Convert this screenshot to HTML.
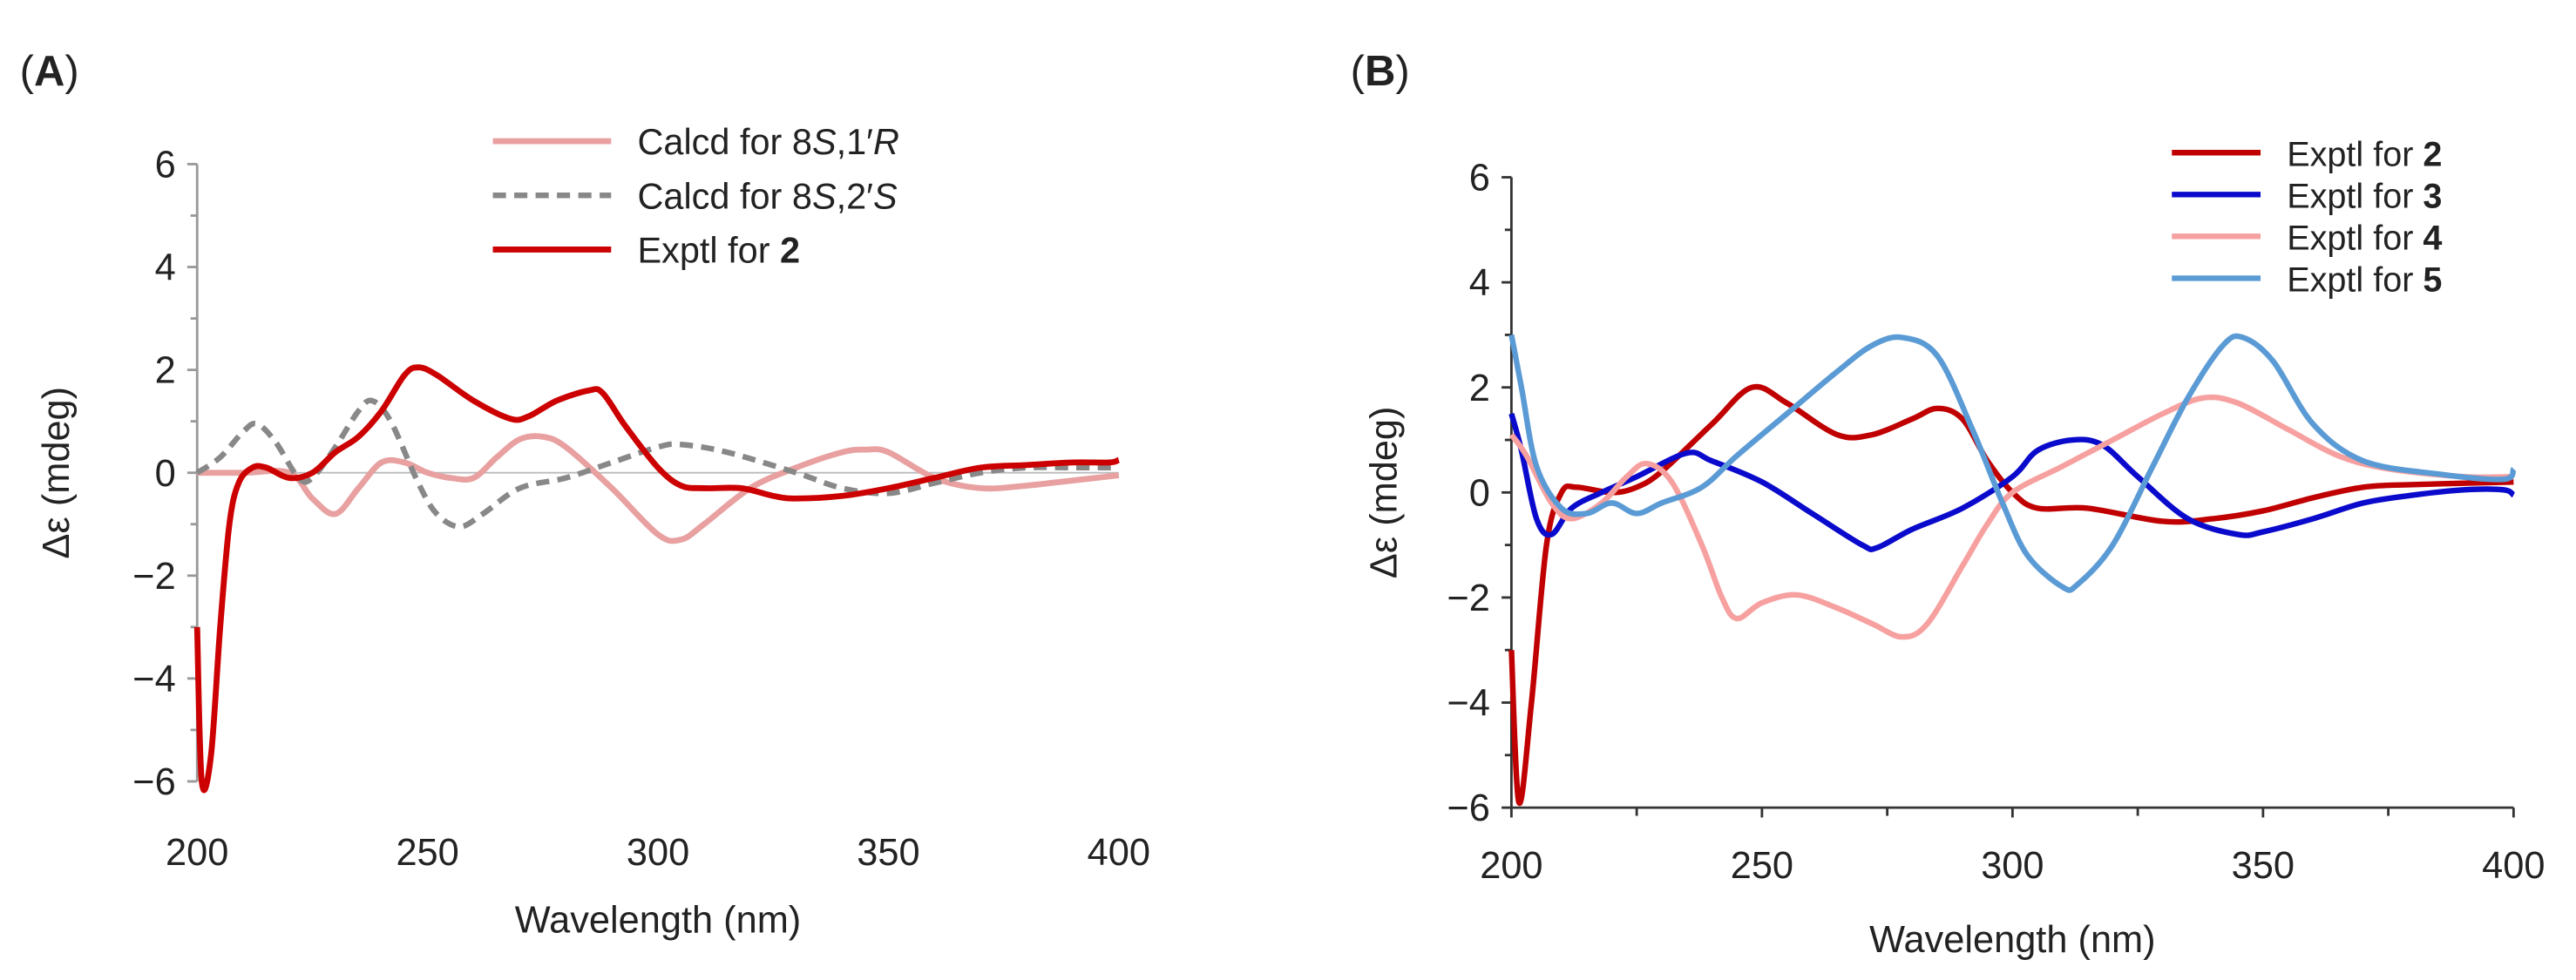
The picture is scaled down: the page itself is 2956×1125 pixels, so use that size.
<!DOCTYPE html>
<html><head><meta charset="utf-8"><style>
html,body{margin:0;padding:0;background:#fff;}
svg{display:block;}
text{font-family:"Liberation Sans",sans-serif;fill:#222;}
</style></head><body>
<svg id="fig" width="2956" height="1125" viewBox="0 0 1568 597" preserveAspectRatio="none" xmlns="http://www.w3.org/2000/svg">
<g id="panelA"></g>
<g id="panelB"></g>
</svg>
<script>
// ---- Panel A data ----
const aCalc1Wl = [200,210,220,225,230,235,240,245,250,255,260,265,270,275,280,290,300,305,310,320,330,340,345,350,360,370,380,390,400];
const aCalc1Val = [0,0,0,-0.5,-0.8,-0.3,0.2,0.2,0,-0.1,-0.1,0.3,0.65,0.7,0.5,-0.3,-1.2,-1.3,-1.0,-0.3,0.1,0.4,0.45,0.4,-0.1,-0.3,-0.25,-0.15,-0.05];
const aCalc2Wl = [200,205,210,213,217,222,225,230,235,238,242,248,252,257,262,270,280,290,300,305,315,330,340,350,360,370,380,390,400];
const aCalc2Val = [0,0.3,0.8,0.95,0.6,-0.1,-0.1,0.5,1.2,1.4,1.0,-0.2,-0.8,-1.05,-0.8,-0.3,-0.1,0.2,0.5,0.55,0.4,0,-0.3,-0.4,-0.2,0,0.1,0.1,0.1];
const aExp2Wl = [200,201,203,205,207,209,212,215,220,225,230,235,240,245,248,252,260,268,272,278,285,288,293,300,305,310,318,325,330,340,350,360,370,380,390,398,400];
const aExp2Val = [-3,-6,-5.5,-3,-1,-0.2,0.1,0.1,-0.1,0,0.4,0.7,1.2,1.9,2.05,1.9,1.4,1.05,1.1,1.4,1.6,1.55,0.9,0.1,-0.25,-0.3,-0.3,-0.45,-0.5,-0.45,-0.3,-0.1,0.1,0.15,0.2,0.2,0.25];
// ---- Panel B data ----
const bExp2Wl = [200,201.5,204,207,210,213,220,225,230,240,248,255,265,272,280,285,290,295,300,305,315,330,340,350,360,370,380,400];
const bExp2Val = [-3,-5.9,-4,-1,0,0.1,0,0.1,0.4,1.3,2.0,1.7,1.1,1.1,1.4,1.6,1.4,0.6,0,-0.3,-0.3,-0.55,-0.5,-0.35,-0.1,0.1,0.15,0.2];
const bExp3Wl = [200,202,205,208,212,218,225,235,240,250,260,270,273,280,290,300,305,312,318,325,335,345,350,360,370,380,390,398,400];
const bExp3Val = [1.5,0.8,-0.5,-0.8,-0.3,0,0.3,0.75,0.6,0.2,-0.4,-1.0,-1.05,-0.7,-0.3,0.3,0.8,1.0,0.9,0.3,-0.5,-0.8,-0.75,-0.5,-0.2,-0.05,0.05,0.05,-0.05];
const bExp4Wl = [200,203,208,212,218,223,227,232,238,242,245,250,257,265,272,278,283,290,295,300,310,320,330,338,345,355,365,375,390,400];
const bExp4Val = [1.1,0.7,-0.2,-0.5,-0.2,0.3,0.55,0.2,-1.0,-2.0,-2.4,-2.1,-1.95,-2.2,-2.5,-2.75,-2.5,-1.4,-0.6,0,0.5,1.0,1.5,1.8,1.7,1.2,0.7,0.45,0.3,0.3];
const bExp5Wl = [200,202,205,210,215,220,225,230,238,245,255,265,272,278,285,292,298,303,310,313,320,328,335,342,346,352,360,370,385,398,400];
const bExp5Val = [3.0,2.0,0.5,-0.3,-0.4,-0.2,-0.4,-0.2,0.1,0.7,1.5,2.3,2.8,2.95,2.6,1.2,-0.2,-1.2,-1.8,-1.75,-1.0,0.5,1.8,2.8,2.95,2.5,1.3,0.6,0.35,0.25,0.45];
const xTicks = [200,250,300,350,400];
const yTicks = [-6,-4,-2,0,2,4,6];
const yTickLabels = ["\u22126","\u22124","\u22122","0","2","4","6"];

const NS="http://www.w3.org/2000/svg";
function mk(tag,attrs,parent,txt){const e=document.createElementNS(NS,tag);for(const k in attrs)e.setAttribute(k,attrs[k]);if(txt!==undefined)e.textContent=txt;parent.appendChild(e);return e;}
function smooth(pts){let d="M"+pts[0][0].toFixed(2)+","+pts[0][1].toFixed(2);
 for(let i=0;i<pts.length-1;i++){const p0=pts[Math.max(0,i-1)],p1=pts[i],p2=pts[i+1],p3=pts[Math.min(pts.length-1,i+2)];
 const c1=[p1[0]+(p2[0]-p0[0])/6,p1[1]+(p2[1]-p0[1])/6],c2=[p2[0]-(p3[0]-p1[0])/6,p2[1]-(p3[1]-p1[1])/6];
 d+=" C"+c1.map(v=>v.toFixed(2))+" "+c2.map(v=>v.toFixed(2))+" "+p2[0].toFixed(2)+","+p2[1].toFixed(2);}return d;}

function panel(g,cfg){
 const xs=w=>cfg.x0+(w-200)/200*(cfg.x1-cfg.x0);
 const ys=v=>cfg.y0-(v+6)/12*(cfg.y0-cfg.y1);
 const ax=mk('g',{},g);
 
 const xAxisY = cfg.xAxisAtZero? ys(0): ys(-6);
 const yl=mk('line',{x1:cfg.x0,y1:ys(6),x2:cfg.x0,y2:ys(-6),stroke:cfg.axisColor,'stroke-width':1.5},ax);
 
 const xl=mk('line',{x1:cfg.x0,y1:xAxisY,x2:cfg.x1,y2:xAxisY,stroke:cfg.xAxisColor,'stroke-width':cfg.xAxisW},ax);
 
 for(let v=-6;v<=6;v++){const maj=v%2===0;mk('line',{x1:cfg.x0-(maj?6:4),y1:ys(v),x2:cfg.x0,y2:ys(v),stroke:cfg.axisColor,'stroke-width':1.5},ax);}
 yTicks.forEach((v,i)=>{const t=mk('text',{x:cfg.x0-13,y:ys(v)+8,'text-anchor':'end','font-size':23},ax,yTickLabels[i]);
  });
 for(let w=200;w<=400;w+=25){const maj=w%50===0;mk('line',{x1:xs(w),y1:xAxisY,x2:xs(w),y2:xAxisY+(cfg.xAxisAtZero?0:(maj?6:5)),stroke:cfg.axisColor,'stroke-width':1.5},ax);}
 xTicks.forEach(w=>{const t=mk('text',{x:xs(w),y:cfg.xlabY,'text-anchor':'middle','font-size':23},ax,String(w));
  });
 const xt=mk('text',{x:(cfg.x0+cfg.x1)/2,y:cfg.xtitleY,'text-anchor':'middle','font-size':23},ax,'Wavelength (nm)');
 
 const yt=mk('text',{x:0,y:0,'text-anchor':'middle','font-size':23,transform:`translate(${cfg.ytitleX},${ys(0)}) rotate(-90)`},ax,'\u0394\u03b5 (mdeg)');
 
 cfg.series.forEach((s,i)=>{
  const pts=s.wl.map((w,j)=>[xs(w),ys(s.val[j])]);
  const p=mk('path',{d:smooth(pts),fill:'none',stroke:s.color,'stroke-width':s.w,'stroke-dasharray':s.dash||'none','stroke-linejoin':'round'},g);
  
  const ly=cfg.legY+i*cfg.legGap;
  const le=mk('g',{},g);
  
  mk('line',{x1:cfg.legX,y1:ly,x2:cfg.legX+cfg.legLen,y2:ly,stroke:s.color,'stroke-width':s.w,'stroke-dasharray':s.dash||'none'},le);
  const t=mk('text',{x:cfg.legX+cfg.legLen+16,y:ly+8,'font-size':cfg.legFont},le);
  s.label.forEach(part=>{const ts=mk('tspan',{},t,part[0]);if(part[1]==='i')ts.setAttribute('font-style','italic');if(part[1]==='b')ts.setAttribute('font-weight','bold');});
 });
 const pl=mk('text',{x:cfg.plX,y:52,'font-size':26},g);
 mk('tspan',{},pl,'(');mk('tspan',{'font-weight':'bold'},pl,cfg.plLetter);mk('tspan',{},pl,')');
 
}
panel(document.getElementById('panelA'),{x0:120,x1:681,y0:476,y1:100,xAxisAtZero:true,axisColor:'#999',xAxisColor:'#bbb',xAxisW:1,xlabY:527,xtitleY:568,ytitleX:42,
 legX:300,legLen:72,legY:86,legGap:33,legFont:22,plX:12,plLetter:'A',
 series:[
  {name:'calcd-8s-1r-line',wl:aCalc1Wl,val:aCalc1Val,color:'#e8a0a0',w:3.6,label:[['Calcd for 8'],['S','i'],[',1\u2032'],['R','i']]},
  {name:'calcd-8s-2s-line',wl:aCalc2Wl,val:aCalc2Val,color:'#888',w:3.4,dash:'8,5',label:[['Calcd for 8'],['S','i'],[',2\u2032'],['S','i']]},
  {name:'exptl-2-line',wl:aExp2Wl,val:aExp2Val,color:'#cc0000',w:3.6,label:[['Exptl for '],['2','b']]}
 ]});
panel(document.getElementById('panelB'),{x0:920,x1:1530,y0:492,y1:108,xAxisAtZero:false,axisColor:'#333',xAxisColor:'#333',xAxisW:1.5,xlabY:535,xtitleY:580,ytitleX:850,
 legX:1322,legLen:54,legY:93,legGap:25.5,legFont:21,plX:822,plLetter:'B',
 series:[
  {name:'exptl-2-line',wl:bExp2Wl,val:bExp2Val,color:'#c00000',w:3.4,label:[['Exptl for '],['2','b']]},
  {name:'exptl-3-line',wl:bExp3Wl,val:bExp3Val,color:'#0a0acc',w:3.4,label:[['Exptl for '],['3','b']]},
  {name:'exptl-4-line',wl:bExp4Wl,val:bExp4Val,color:'#f7a0a0',w:3.4,label:[['Exptl for '],['4','b']]},
  {name:'exptl-5-line',wl:bExp5Wl,val:bExp5Val,color:'#5b9bd5',w:3.4,label:[['Exptl for '],['5','b']]}
 ]});
</script>
</body></html>
